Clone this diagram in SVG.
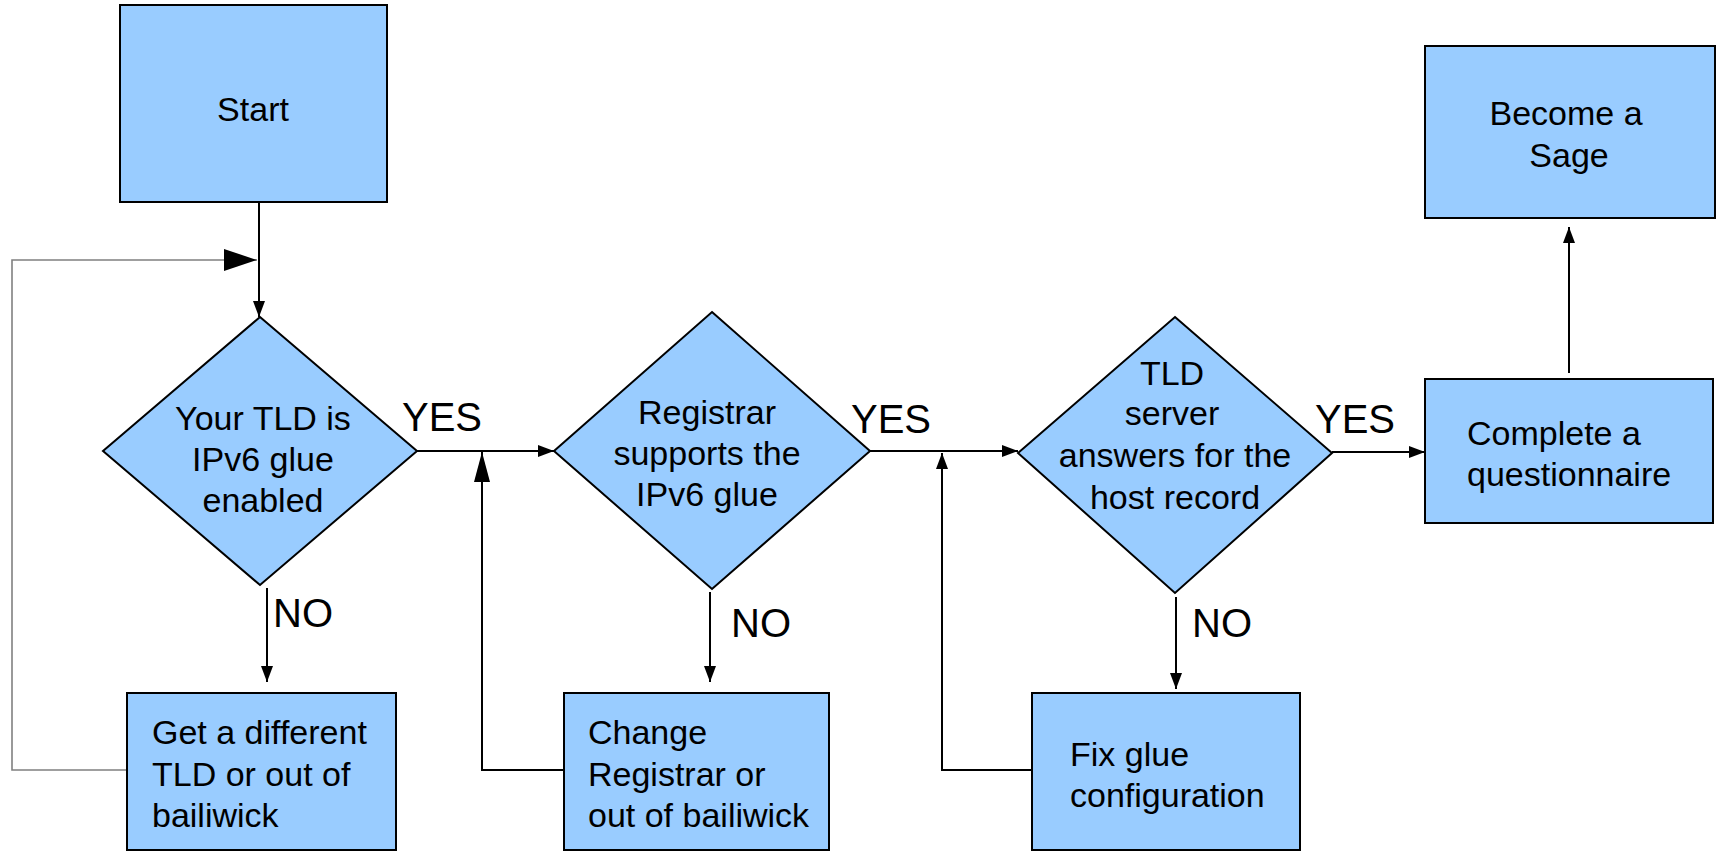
<svg xmlns="http://www.w3.org/2000/svg" width="1718" height="852" viewBox="0 0 1718 852">
<style>
.node{fill:#99ccff;stroke:#000;stroke-width:2}
.t{font-family:"Liberation Sans",Arial,sans-serif;font-size:34px;fill:#000}
.c{text-anchor:middle}
.lbl{font-family:"Liberation Sans",Arial,sans-serif;font-size:40px;fill:#000}
.ln{fill:none;stroke:#000;stroke-width:2}
.gr{fill:none;stroke:#808080;stroke-width:1.6}
</style>
<defs>
<marker id="big" markerUnits="userSpaceOnUse" markerWidth="34" markerHeight="22" refX="33" refY="11" orient="auto"><path d="M0,0 L33,11 L0,22 Z" fill="#000"/></marker>
<marker id="mid" markerUnits="userSpaceOnUse" markerWidth="30" markerHeight="16" refX="30" refY="8" orient="auto"><path d="M0,0 L30,8 L0,16 Z" fill="#000"/></marker>
<marker id="sm" markerUnits="userSpaceOnUse" markerWidth="16" markerHeight="12" refX="16" refY="6" orient="auto"><path d="M0,0 L16,6 L0,12 Z" fill="#000"/></marker>
</defs>
<rect width="1718" height="852" fill="#fff"/>
<g id="connectors">
<path class="gr" d="M127,770 H12 V260 H257" marker-end="url(#big)"/>
<path class="ln" d="M259,202 V317" marker-end="url(#sm)"/>
<path class="ln" d="M417,451 H554" marker-end="url(#sm)"/>
<path class="ln" d="M564,770 H482 V452" marker-end="url(#mid)"/>
<path class="ln" d="M870,451 H1018" marker-end="url(#sm)"/>
<path class="ln" d="M1032,770 H942 V453" marker-end="url(#sm)"/>
<path class="ln" d="M1332,452 H1425" marker-end="url(#sm)"/>
<path class="ln" d="M1569,373 V227" marker-end="url(#sm)"/>
<path class="ln" d="M267,588 V682" marker-end="url(#sm)"/>
<path class="ln" d="M710,592 V682" marker-end="url(#sm)"/>
<path class="ln" d="M1176,597 V689" marker-end="url(#sm)"/>
<text class="lbl" x="402" y="431">YES</text>
<text class="lbl" x="851" y="433">YES</text>
<text class="lbl" x="1315" y="433">YES</text>
<text class="lbl" x="273" y="627">NO</text>
<text class="lbl" x="731" y="637">NO</text>
<text class="lbl" x="1192" y="637">NO</text>
</g>
<g id="start">
<rect class="node" x="120" y="5" width="267" height="197"/>
<text class="t c" x="253" y="121">Start</text>
</g>
<g id="tld-enabled">
<polygon class="node" points="260,317 417,451 260,585 103,451"/>
<text class="t c" x="263" y="430">Your TLD is</text>
<text class="t c" x="263" y="471">IPv6 glue</text>
<text class="t c" x="263" y="512">enabled</text>
</g>
<g id="registrar-supports">
<polygon class="node" points="712,312 870,451 712,589 554,451"/>
<text class="t c" x="707" y="424">Registrar</text>
<text class="t c" x="707" y="465">supports the</text>
<text class="t c" x="707" y="506">IPv6 glue</text>
</g>
<g id="tld-answers">
<polygon class="node" points="1175,317 1332,453 1175,593 1018,453"/>
<text class="t c" x="1172" y="385">TLD</text>
<text class="t c" x="1172" y="425">server</text>
<text class="t c" x="1175" y="467">answers for the</text>
<text class="t c" x="1175" y="509">host record</text>
</g>
<g id="complete">
<rect class="node" x="1425" y="379" width="288" height="144"/>
<text class="t" x="1467" y="445">Complete a</text>
<text class="t" x="1467" y="486">questionnaire</text>
</g>
<g id="sage">
<rect class="node" x="1425" y="46" width="290" height="172"/>
<text class="t c" x="1566" y="125">Become a</text>
<text class="t c" x="1569" y="167">Sage</text>
</g>
<g id="different-tld">
<rect class="node" x="127" y="693" width="269" height="157"/>
<text class="t" x="152" y="744">Get a different</text>
<text class="t" x="152" y="786">TLD or out of</text>
<text class="t" x="152" y="827">bailiwick</text>
</g>
<g id="change-registrar">
<rect class="node" x="564" y="693" width="265" height="157"/>
<text class="t" x="588" y="744">Change</text>
<text class="t" x="588" y="786">Registrar or</text>
<text class="t" x="588" y="827">out of bailiwick</text>
</g>
<g id="fix-glue">
<rect class="node" x="1032" y="693" width="268" height="157"/>
<text class="t" x="1070" y="766">Fix glue</text>
<text class="t" x="1070" y="807">configuration</text>
</g>
</svg>
